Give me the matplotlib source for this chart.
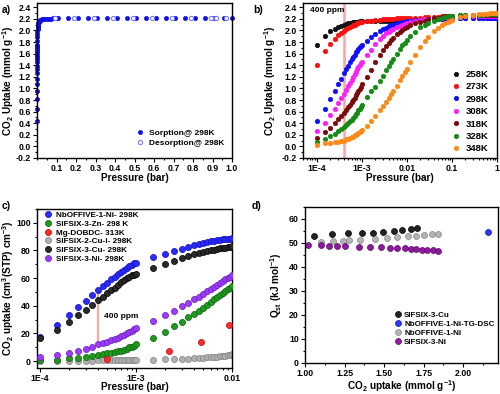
import matplotlib
matplotlib.use("Agg")
import matplotlib.pyplot as plt
from matplotlib.ticker import MultipleLocator, LogLocator, NullFormatter, FormatStrFormatter

plt.rcParams['font.family'] = ['Liberation Sans', 'DejaVu Sans']
plt.rcParams['font.weight'] = 'bold'
plt.rcParams['axes.labelweight'] = 'bold'
plt.rcParams['mathtext.fontset'] = 'custom'
plt.rcParams['mathtext.rm'] = 'Liberation Sans:bold'
plt.rcParams['mathtext.it'] = 'Liberation Sans:bold'
plt.rcParams['mathtext.bf'] = 'Liberation Sans:bold'
plt.rcParams['mathtext.default'] = 'rm'

# ---------------- data: panel b (also used for the low-pressure part of a)
p_b = [1.0e-4, 1.5e-4, 2.0e-4, 2.5e-4, 3.0e-4, 3.5e-4, 4.0e-4, 4.5e-4, 5.0e-4, 5.5e-4,
       6.0e-4, 6.5e-4, 7.0e-4, 7.5e-4, 8.0e-4, 8.5e-4, 9.0e-4, 9.5e-4, 1.0e-3,
       1.3e-3, 1.6e-3, 2.0e-3, 2.5e-3, 3.0e-3, 3.5e-3, 4.0e-3, 4.5e-3, 5.0e-3,
       6.0e-3, 7.0e-3, 8.0e-3, 9.0e-3, 1.0e-2,
       0.012, 0.015, 0.02, 0.025, 0.03, 0.04, 0.05, 0.06, 0.07, 0.08, 0.09, 0.1,
       0.15, 0.2, 0.3, 0.4, 0.5, 0.6, 0.7, 0.8, 0.9, 1.0]

u_258 = [1.75, 1.91, 1.99, 2.03, 2.06, 2.08, 2.10, 2.11, 2.12, 2.13, 2.13, 2.14, 2.14, 2.15, 2.15, 2.15, 2.16, 2.16, 2.16,
         2.16, 2.16, 2.16, 2.16, 2.16, 2.16, 2.16, 2.16, 2.16, 2.17, 2.17, 2.17, 2.17, 2.17,
         2.17, 2.18, 2.18, 2.18, 2.19, 2.19, 2.19, 2.20, 2.20, 2.20, 2.20, 2.20,
         2.21, 2.21, 2.21, 2.22, 2.22, 2.22, 2.22, 2.22, 2.22, 2.22]
u_273 = [1.40, 1.64, 1.77, 1.86, 1.92, 1.96, 1.99, 2.02, 2.04, 2.06, 2.07, 2.09, 2.10, 2.11, 2.12, 2.13, 2.14, 2.14, 2.15,
         2.16, 2.17, 2.18, 2.18, 2.19, 2.19, 2.20, 2.20, 2.20, 2.21, 2.21, 2.21, 2.21, 2.22,
         2.22, 2.22, 2.22, 2.23, 2.23, 2.23, 2.23, 2.24, 2.24, 2.24, 2.24, 2.24,
         2.25, 2.25, 2.25, 2.25, 2.26, 2.26, 2.26, 2.26, 2.26, 2.26]
u_298 = [0.43, 0.64, 0.82, 0.96, 1.07, 1.17, 1.26, 1.33, 1.39, 1.45, 1.50, 1.54, 1.58, 1.62, 1.65, 1.68, 1.71, 1.73, 1.75,
         1.82, 1.88, 1.94, 1.99, 2.02, 2.05, 2.07, 2.09, 2.10, 2.12, 2.13, 2.14, 2.15, 2.16,
         2.17, 2.18, 2.18, 2.19, 2.19, 2.20, 2.20, 2.20, 2.20, 2.21, 2.21, 2.21,
         2.21, 2.21, 2.21, 2.21, 2.21, 2.21, 2.21, 2.21, 2.21, 2.21]
u_308 = [0.27, 0.41, 0.54, 0.65, 0.75, 0.84, 0.91, 0.98, 1.04, 1.10, 1.15, 1.20, 1.25, 1.29, 1.33, 1.37, 1.40, 1.43, 1.45,
         1.57, 1.67, 1.77, 1.85, 1.91, 1.95, 1.98, 2.01, 2.03, 2.06, 2.08, 2.10, 2.11, 2.12,
         2.14, 2.16, 2.18, 2.19, 2.20, 2.21, 2.22, 2.22, 2.23, 2.23, 2.23, 2.24,
         2.24, 2.24, 2.25, 2.25, 2.25, 2.25, 2.25, 2.25, 2.25, 2.25]
u_318 = [0.15, 0.24, 0.32, 0.40, 0.47, 0.53, 0.58, 0.63, 0.68, 0.72, 0.76, 0.80, 0.84, 0.88, 0.92, 0.96, 0.99, 1.03, 1.07,
         1.20, 1.32, 1.45, 1.57, 1.66, 1.73, 1.79, 1.83, 1.87, 1.93, 1.97, 2.01, 2.04, 2.06,
         2.09, 2.12, 2.15, 2.17, 2.19, 2.21, 2.22, 2.23, 2.24, 2.24, 2.25, 2.25,
         2.26, 2.26, 2.26, 2.27, 2.27, 2.27, 2.27, 2.27, 2.27, 2.27]
u_328 = [0.08, 0.13, 0.18, 0.22, 0.26, 0.30, 0.34, 0.37, 0.40, 0.43, 0.46, 0.49, 0.52, 0.55, 0.58, 0.62, 0.65, 0.68, 0.72,
         0.85, 0.95, 1.03, 1.12, 1.22, 1.31, 1.38, 1.45, 1.51, 1.60, 1.68, 1.74, 1.79, 1.84,
         1.91, 1.98, 2.06, 2.10, 2.13, 2.17, 2.20, 2.22, 2.23, 2.24, 2.25, 2.25,
         2.26, 2.26, 2.27, 2.27, 2.27, 2.28, 2.28, 2.28, 2.28, 2.28]
u_348 = [0.03, 0.05, 0.06, 0.07, 0.08, 0.09, 0.10, 0.12, 0.13, 0.14, 0.16, 0.17, 0.19, 0.20, 0.22, 0.23, 0.25, 0.26, 0.28,
         0.36, 0.44, 0.52, 0.62, 0.70, 0.77, 0.84, 0.90, 0.95, 1.05, 1.14, 1.22, 1.28, 1.34,
         1.45, 1.58, 1.72, 1.82, 1.89, 1.99, 2.05, 2.10, 2.13, 2.15, 2.17, 2.18,
         2.23, 2.25, 2.27, 2.28, 2.29, 2.29, 2.30, 2.30, 2.30, 2.30]

temps_b = ['258K', '273K', '298K', '308K', '318K', '328K', '348K']
series_b = [u_258, u_273, u_298, u_308, u_318, u_328, u_348]
colors_b = ['#111111', '#ff1010', '#1010ff', '#ff20ff', '#7a0a0a', '#158a15', '#ff8a1a']

# ---------------- data: panel a (high-pressure points)
p_a_sorp_hi = [0.11, 0.16, 0.21, 0.26, 0.31, 0.36, 0.41, 0.46, 0.51, 0.56,
               0.61, 0.66, 0.71, 0.76, 0.81, 0.86, 0.91, 0.96, 1.0]
u_a_sorp_hi = [2.22] * len(p_a_sorp_hi)
p_a_desorp = [0.09, 0.19, 0.29, 0.39, 0.49, 0.59, 0.69, 0.79, 0.89, 0.92, 0.97]
u_a_desorp = [2.22, 2.22, 2.22, 2.22, 2.22, 2.22, 2.22, 2.22, 2.22, 2.22, 2.22]

# ---------------- data: panel c
p_c = [1.0e-4, 1.5e-4, 2.0e-4, 2.5e-4, 3.0e-4, 3.5e-4, 4.0e-4, 4.5e-4, 5.0e-4, 5.5e-4,
       6.0e-4, 6.5e-4, 7.0e-4, 7.5e-4, 8.0e-4, 8.5e-4, 9.0e-4, 9.5e-4, 1.0e-3,
       1.5e-3, 2.0e-3, 2.5e-3, 3.0e-3, 3.5e-3, 4.0e-3, 4.5e-3, 5.0e-3, 5.5e-3,
       6.0e-3, 6.5e-3, 7.0e-3, 7.5e-3, 8.0e-3, 8.5e-3, 9.0e-3, 9.5e-3, 1.0e-2]
nboffive_c = [17.5, 26, 33.5, 39, 43.5, 47.5, 51, 54, 56.5, 59, 61, 63, 64.5, 66, 67.5, 68.5, 69.5, 70.5, 71,
              75, 77.5, 79.5, 81, 82.5, 83.5, 84.5, 85.3, 86, 86.5, 87, 87.3, 87.6, 87.9, 88.1, 88.3, 88.5, 88.6]
sifsix3cu_c = [16.5, 22.5, 28.5, 33, 37, 40.5, 44, 46.5, 49, 51, 53, 55, 57, 58.5, 60, 61, 62, 62.5, 63,
               67, 70, 72.5, 74.5, 76, 77, 78, 78.8, 79.5, 80, 80.5, 81, 81.4, 81.7, 82, 82.3, 82.6, 82.8]
sifsix3ni_c = [3, 4.5, 6, 7.5, 9, 10.5, 12, 13, 14, 15, 16, 17, 18, 19, 20, 21, 22, 23, 24,
               29, 33, 36.5, 39.5, 42, 44.5, 46.5, 48.5, 50.5, 52, 53.5, 55, 56.5, 58, 59, 60, 61, 62]
sifsix3zn_c = [0.5, 1, 2, 2.5, 3, 3.8, 4.5, 5, 5.5, 6, 6.5, 7, 7.5, 8, 9, 10, 10.5, 11, 12,
               16.5, 21, 25, 28.5, 31.5, 34, 36.5, 38.5, 40.5, 42.5, 44.5, 46, 47.5, 49, 50.5, 52, 53, 54]
sifsix2cui_c = [0.2, 0.3, 0.3, 0.4, 0.4, 0.4, 0.5, 0.5, 0.5, 0.5, 0.6, 0.6, 0.6, 0.6, 0.7, 0.7, 0.7, 0.7, 0.8,
                1.0, 1.2, 1.4, 1.6, 1.8, 2.0, 2.2, 2.4, 2.6, 2.8, 3.0, 3.2, 3.5, 3.7, 4.0, 4.3, 4.6, 5.0]
p_mg = [5.0e-4, 2.2e-3, 4.7e-3, 9.2e-3]
mgdobdc_c = [1.5, 7.0, 14.0, 26.0]

# ---------------- data: panel d
cu_x = [1.06, 1.17, 1.27, 1.36, 1.43, 1.49, 1.56, 1.61, 1.67, 1.71]
cu_q = [53.0, 53.5, 53.9, 54.2, 54.3, 54.6, 54.9, 55.3, 55.7, 56.1]
tg_x = [2.155]
tg_q = [54.7]
nb_x = [1.10, 1.18, 1.24, 1.28, 1.35, 1.44, 1.52, 1.58, 1.65, 1.70, 1.75, 1.80, 1.84]
nb_q = [50.5, 50.8, 50.9, 51.1, 51.3, 51.8, 52.1, 52.5, 52.8, 53.0, 53.3, 53.6, 53.8]
ni_x = [1.02, 1.10, 1.15, 1.20, 1.25, 1.34, 1.41, 1.48, 1.54, 1.58, 1.63, 1.67, 1.70, 1.74, 1.77, 1.81, 1.84]
ni_q = [49.0, 48.9, 48.8, 48.7, 48.6, 48.4, 48.3, 48.2, 48.0, 47.9, 47.7, 47.6, 47.4, 47.2, 47.0, 46.9, 46.8]

TICK = 6.3
LAB = 7.2


def style(ax, ylab_x, xlab_y):
    for s in ax.spines.values():
        s.set_linewidth(1.0)
    ax.tick_params(which='both', direction='out', top=False, right=False,
                   labelsize=TICK, width=0.8, pad=1.5)
    ax.tick_params(which='major', length=3)
    ax.tick_params(which='minor', length=1.6)
    ax.yaxis.set_label_coords(ylab_x, 0.5)
    ax.xaxis.set_label_coords(0.5, xlab_y)


def dot(ax, x, y, c, ms, label=None, ec=None, **kw):
    ax.plot(x, y, 'o', ms=ms, mfc=c, mec=ec if ec else c, mew=0.5, label=label, **kw)


fig = plt.figure(figsize=(5, 3.94), dpi=100)

# ---------------- panel a
ax = fig.add_axes([0.074, 0.599, 0.39, 0.393])
dot(ax, p_b[:45], u_298[:45], '#1010ee', 3.0, clip_on=False)
dot(ax, p_a_sorp_hi, u_a_sorp_hi, '#1010ee', 3.0, label='Sorption@ 298K', clip_on=False)
ax.plot(p_a_desorp, u_a_desorp, 'o', ms=3.0, mfc='white', mec='#7a7aff', mew=0.8,
        label='Desorption@ 298K')
ax.set_xlim(0, 1.0)
ax.set_ylim(-0.2, 2.47)
ax.set_xticks([0.1, 0.2, 0.3, 0.4, 0.5, 0.6, 0.7, 0.8, 0.9, 1.0])
ax.xaxis.set_major_formatter(FormatStrFormatter('%.1f'))
ax.xaxis.set_minor_locator(MultipleLocator(0.05))
ax.yaxis.set_major_locator(MultipleLocator(0.2))
ax.yaxis.set_minor_locator(MultipleLocator(0.1))
ax.yaxis.set_major_formatter(FormatStrFormatter('%.1f'))
ax.set_xlabel('Pressure (bar)', fontsize=LAB)
ax.set_ylabel('CO$_2$ Uptake (mmol g$^{-1}$)', fontsize=LAB)
style(ax, -0.11, -0.095)
ax.legend(loc='lower right', bbox_to_anchor=(1.0, 0.02), frameon=False, fontsize=6,
          handletextpad=0.5, labelspacing=0.35, handlelength=1.2)
fig.text(0.004, 0.975, 'a)', fontsize=7.5, fontweight='bold', va='center')

# ---------------- panel b
ax = fig.add_axes([0.606, 0.599, 0.388, 0.393])
ax.axvline(4e-4, color='#f7a5a5', lw=1.8, zorder=1)
for u, t, c in zip(series_b, temps_b, colors_b):
    dot(ax, p_b, u, c, 3.2, label=t, zorder=3)
ax.set_xscale('log')
ax.set_xlim(5e-5, 1.0)
ax.set_ylim(-0.2, 2.47)
ax.set_xticks([1e-4, 1e-3, 1e-2, 1e-1, 1.0])
ax.set_xticklabels(['1E-4', '1E-3', '0.01', '0.1', '1'])
ax.xaxis.set_minor_locator(LogLocator(base=10, subs=range(2, 10)))
ax.xaxis.set_minor_formatter(NullFormatter())
ax.yaxis.set_major_locator(MultipleLocator(0.2))
ax.yaxis.set_minor_locator(MultipleLocator(0.1))
ax.yaxis.set_major_formatter(FormatStrFormatter('%.1f'))
ax.set_xlabel('Pressure (bar)', fontsize=LAB)
ax.set_ylabel('CO$_2$ Uptake (mmol g$^{-1}$)', fontsize=LAB)
style(ax, -0.128, -0.095)
ax.text(0.035, 0.955, '400 ppm', transform=ax.transAxes, fontsize=6, fontweight='bold',
        va='center')
ax.legend(loc='lower right', bbox_to_anchor=(1.0, -0.025), frameon=False, fontsize=6.8,
          handletextpad=0.6, labelspacing=0.36, handlelength=0.8)
fig.text(0.506, 0.975, 'b)', fontsize=7.5, fontweight='bold', va='center')

# ---------------- panel c
ax = fig.add_axes([0.074, 0.066, 0.39, 0.404])
ax.vlines(4e-4, 12, 51, color='#f7a5a5', lw=1.5, zorder=1)
ax.text(4.6e-4, 32, '400 ppm', fontsize=6, fontweight='bold', va='center')
dot(ax, p_c, nboffive_c, '#2a2aff', 4.4, label='NbOFFIVE-1-Ni- 298K', ec='#1010b0', zorder=3)
dot(ax, p_c, sifsix3zn_c, '#1f9a1f', 4.4, label='SIFSIX-3-Zn- 298 K', ec='#0a600a', zorder=3)
dot(ax, p_mg, mgdobdc_c, '#ff2a2a', 4.4, label='Mg-DOBDC- 313K', ec='#b01010', zorder=3)
dot(ax, p_c, sifsix2cui_c, '#b0b0b0', 4.4, label='SIFSIX-2-Cu-i- 298K', ec='#808080', zorder=2)
dot(ax, p_c, sifsix3cu_c, '#2a2a2a', 4.4, label='SIFSIX-3-Cu- 298K', ec='#000000', zorder=3)
dot(ax, p_c, sifsix3ni_c, '#9b3cff', 4.4, label='SIFSIX-3-Ni- 298K', ec='#6a1ab0', zorder=3)
ax.set_xscale('log')
ax.set_xlim(9.3e-5, 1.0e-2)
ax.set_ylim(-5, 110)
ax.set_xticks([1e-4, 1e-3, 1e-2])
ax.set_xticklabels(['1E-4', '1E-3', '0.01'])
ax.xaxis.set_minor_locator(LogLocator(base=10, subs=range(2, 10)))
ax.xaxis.set_minor_formatter(NullFormatter())
ax.set_yticks([0, 20, 40, 60, 80, 100])
ax.yaxis.set_minor_locator(MultipleLocator(10))
ax.set_xlabel('Pressure (bar)', fontsize=LAB)
ax.set_ylabel('CO$_2$ uptake (cm$^3$(STP) cm$^{-3}$)', fontsize=LAB)
style(ax, -0.11, -0.088)
ax.legend(loc='upper left', bbox_to_anchor=(0.0, 1.03), frameon=False, fontsize=5.9,
          handletextpad=0.4, labelspacing=0.12, handlelength=1.0)
fig.text(0.004, 0.478, 'c)', fontsize=7.5, fontweight='bold', va='center')

# ---------------- panel d
ax = fig.add_axes([0.61, 0.079, 0.386, 0.396])
dot(ax, cu_x, cu_q, '#222222', 4.3, label='SIFSIX-3-Cu', ec='#000000')
dot(ax, tg_x, tg_q, '#2a3aff', 4.3, label='NbOFFIVE-1-Ni-TG-DSC', ec='#1010b0')
dot(ax, nb_x, nb_q, '#b4b4b4', 4.3, label='NbOFFIVE-1-Ni', ec='#858585')
dot(ax, ni_x, ni_q, '#8e1a9e', 4.3, label='SIFSIX-3-Ni', ec='#5a0a66')
ax.set_xlim(1.0, 2.22)
ax.set_ylim(0, 65)
ax.set_xticks([1.0, 1.25, 1.5, 1.75, 2.0])
ax.xaxis.set_major_formatter(FormatStrFormatter('%.2f'))
ax.xaxis.set_minor_locator(MultipleLocator(0.125))
ax.yaxis.set_major_locator(MultipleLocator(10))
ax.yaxis.set_minor_locator(MultipleLocator(5))
ax.set_xlabel('CO$_2$ uptake (mmol g$^{-1}$)', fontsize=LAB)
ax.set_ylabel('Q$_{st}$ (kJ mol$^{-1}$)', fontsize=LAB)
style(ax, -0.109, -0.1)
ax.legend(loc='lower right', bbox_to_anchor=(1.02, 0.06), frameon=False, fontsize=5.8,
          handletextpad=0.3, labelspacing=0.2, handlelength=1.0)
fig.text(0.504, 0.478, 'd)', fontsize=7.5, fontweight='bold', va='center')

fig.savefig('out.png', dpi=100)
